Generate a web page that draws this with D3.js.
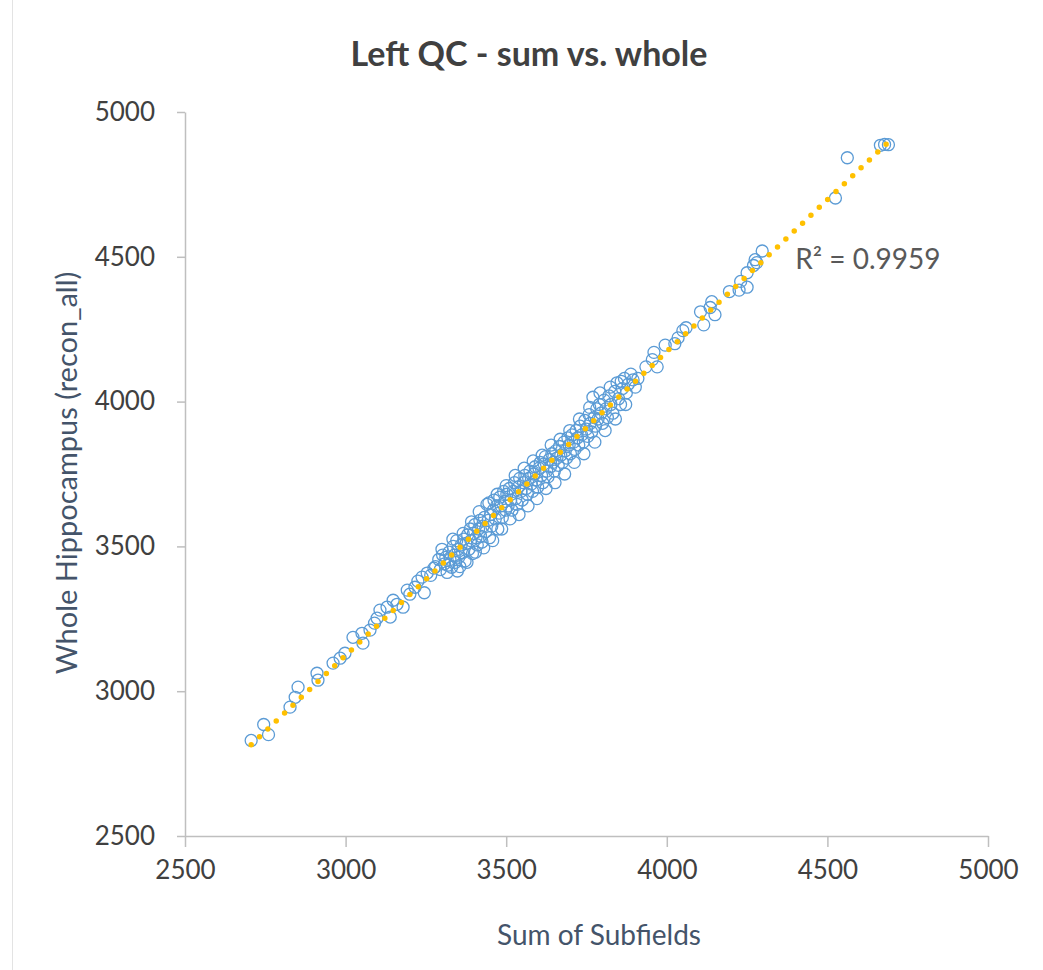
<!DOCTYPE html>
<html>
<head>
<meta charset="utf-8">
<script src="https://cdn.jsdelivr.net/npm/d3@7"></script>
<style>
  body { margin: 0; background: #fff; }
  svg { display: block; font-family: Lato, "Open Sans", sans-serif; }
</style>
</head>
<body>
<div id="chart"></div>
<script>
const title = "Left QC - sum vs. whole";
const xTitle = "Sum of Subfields";
const yTitle = "Whole Hippocampus (recon_all)";
const r2Label = "R² = 0.9959";
const xTicks = [2500, 3000, 3500, 4000, 4500, 5000];
const yTicks = [2500, 3000, 3500, 4000, 4500, 5000];

// sum of subfields (x) and whole hippocampus (y)
const lowerPoints = [
    [2706, 2830], [2745, 2885], [2760, 2850], [2827, 2945], [2843, 2979], [2852, 3014],
    [2911, 3062], [2914, 3038], [2961, 3097], [2983, 3114], [2998, 3131], [3023, 3186],
    [3054, 3166], [3051, 3200], [3076, 3211], [3098, 3252], [3107, 3280], [3139, 3256],
    [3129, 3290], [3148, 3314], [3179, 3290], [3192, 3349], [3216, 3359], [3238, 3394],
    [3254, 3408], [3225, 3380], [3245, 3340], [3265, 3400], [3090, 3235], [3160, 3300],
    [3200, 3335], [3275, 3425]
];
const middlePoints = [
    [3280, 3430], [3290, 3455], [3295, 3420], [3302, 3470], [3308, 3440], [3312, 3462],
    [3318, 3435], [3322, 3480], [3325, 3455], [3330, 3428], [3335, 3500], [3338, 3470],
    [3342, 3445], [3346, 3520], [3350, 3490], [3352, 3462], [3356, 3430], [3360, 3505],
    [3364, 3478], [3368, 3525], [3372, 3450], [3375, 3510], [3380, 3540], [3384, 3490],
    [3388, 3560], [3390, 3520], [3395, 3475], [3398, 3545], [3402, 3575], [3406, 3530],
    [3410, 3505], [3414, 3560], [3418, 3590], [3420, 3535], [3425, 3515], [3428, 3570],
    [3432, 3600], [3436, 3550], [3440, 3645], [3444, 3590], [3448, 3530], [3452, 3610],
    [3455, 3570], [3460, 3625], [3462, 3660], [3466, 3595], [3470, 3640], [3474, 3560],
    [3478, 3615], [3480, 3670], [3484, 3640], [3488, 3600], [3492, 3690], [3495, 3655],
    [3498, 3625], [3502, 3680], [3506, 3640], [3510, 3700], [3514, 3660], [3518, 3625],
    [3522, 3690], [3526, 3720], [3530, 3665], [3534, 3645], [3538, 3705], [3542, 3735],
    [3546, 3690], [3550, 3660], [3554, 3720], [3558, 3745], [3562, 3700], [3566, 3680],
    [3570, 3735], [3574, 3760], [3578, 3715], [3582, 3690], [3586, 3750], [3590, 3775],
    [3594, 3730], [3598, 3705], [3602, 3770], [3606, 3790], [3610, 3745], [3614, 3720],
    [3618, 3785], [3622, 3810], [3626, 3760], [3630, 3740], [3634, 3800], [3638, 3775],
    [3642, 3820], [3646, 3790], [3650, 3760], [3654, 3830], [3658, 3805], [3662, 3780],
    [3666, 3845], [3670, 3815], [3675, 3790], [3680, 3860], [3684, 3830], [3688, 3805],
    [3692, 3875], [3696, 3850], [3700, 3820], [3705, 3885], [3710, 3860], [3714, 3835],
    [3718, 3900], [3722, 3875], [3726, 3850], [3730, 3915], [3735, 3885], [3740, 3860],
    [3745, 3935], [3750, 3905], [3754, 3880], [3758, 3955], [3762, 3925], [3766, 3895],
    [3770, 4015], [3774, 3945], [3778, 3915], [3782, 3975], [3786, 3940], [3790, 3990],
    [3795, 3960], [3800, 3925], [3805, 4005], [3810, 3975], [3815, 3945], [3820, 4020],
    [3826, 3990], [3832, 3960], [3838, 4035], [3845, 4065], [3850, 4010], [3856, 3990],
    [3862, 4045], [3868, 4080], [3874, 4030], [3880, 4060], [3888, 4095], [3895, 4075],
    [3902, 4050], [3910, 4080],
    [3300, 3490], [3316, 3410], [3334, 3525], [3348, 3415], [3366, 3545], [3378, 3445],
    [3392, 3585], [3404, 3480], [3416, 3620], [3430, 3495], [3446, 3650], [3458, 3520],
    [3472, 3680], [3486, 3560], [3500, 3710], [3512, 3595], [3528, 3745], [3540, 3610],
    [3556, 3770], [3568, 3640], [3584, 3795], [3596, 3665], [3612, 3815], [3624, 3700],
    [3640, 3850], [3652, 3720], [3668, 3870], [3682, 3750], [3698, 3900], [3712, 3790],
    [3728, 3940], [3742, 3820], [3760, 3980], [3776, 3860], [3792, 4030], [3808, 3900],
    [3824, 4050], [3840, 3940], [3858, 4070], [3872, 3990]
];
const upperPoints = [
    [3935, 4120], [3955, 4145], [3960, 4170], [3970, 4120], [3995, 4195], [4025, 4200],
    [4035, 4220], [4050, 4245], [4060, 4255], [4105, 4310], [4115, 4265], [4135, 4325],
    [4140, 4345], [4150, 4300], [4195, 4380], [4225, 4385], [4230, 4415], [4250, 4395],
    [4250, 4445], [4270, 4470], [4275, 4490], [4280, 4480], [4297, 4520],
    [4525, 4703], [4562, 4842], [4665, 4885], [4678, 4888], [4690, 4887]
];
const points = lowerPoints.concat(middlePoints, upperPoints);

const margin = { top: 112, right: 55, bottom: 134, left: 185 };
const totalWidth = 1043, totalHeight = 970;
const width = totalWidth - margin.left - margin.right;
const height = totalHeight - margin.top - margin.bottom;

const svg = d3.select("#chart").append("svg")
    .attr("width", totalWidth)
    .attr("height", totalHeight);

// faint chart border on the left edge
svg.append("line")
    .attr("x1", 12.5).attr("x2", 12.5)
    .attr("y1", 0).attr("y2", totalHeight)
    .attr("stroke", "#e3e3e3");

const g = svg.append("g")
    .attr("transform", `translate(${margin.left},${margin.top})`);

const x = d3.scaleLinear().domain([2500, 5000]).range([0, width]);
const y = d3.scaleLinear().domain([2500, 5000]).range([height, 0]);

const xAxis = g.append("g")
    .attr("transform", `translate(0,${height})`)
    .call(d3.axisBottom(x).tickValues(xTicks).tickFormat(d3.format("d"))
        .tickSize(11).tickSizeOuter(0).tickPadding(14));

const yAxis = g.append("g")
    .call(d3.axisLeft(y).tickValues(yTicks).tickFormat(d3.format("d"))
        .tickSize(8).tickSizeOuter(0).tickPadding(22));

[xAxis, yAxis].forEach(a => {
    a.select(".domain").attr("stroke", "#bfbfbf").attr("stroke-width", 1.5);
    a.selectAll(".tick line").attr("stroke", "#bfbfbf").attr("stroke-width", 1.5);
    a.selectAll(".tick text")
        .attr("fill", "#404040")
        .style("font-size", "26px")
        .style("font-family", "Lato, sans-serif");
});

// markers
g.selectAll("circle.pt")
    .data(points)
    .join("circle")
    .attr("class", "pt")
    .attr("cx", d => x(d[0]))
    .attr("cy", d => y(d[1]))
    .attr("r", 6)
    .attr("fill", "none")
    .attr("stroke", "#5B9BD5")
    .attr("stroke-width", 1.3);

// linear trendline from the data
const mx = d3.mean(points, d => d[0]);
const my = d3.mean(points, d => d[1]);
const slope = d3.sum(points, d => (d[0] - mx) * (d[1] - my)) / d3.sum(points, d => (d[0] - mx) ** 2);
const intercept = my - slope * mx;
const [x0, x1] = d3.extent(points, d => d[0]);

g.append("line")
    .attr("x1", x(x0)).attr("y1", y(intercept + slope * x0))
    .attr("x2", x(x1)).attr("y2", y(intercept + slope * x1))
    .attr("stroke", "#FFC000")
    .attr("stroke-width", 5.5)
    .attr("stroke-linecap", "round")
    .attr("stroke-dasharray", "0 11.5");

// R² label
g.append("text")
    .attr("x", x(4400))
    .attr("y", y(4458))
    .attr("fill", "#595959")
    .style("font-size", "28px")
    .text(r2Label);

// titles
svg.append("text")
    .attr("x", 529)
    .attr("y", 66)
    .attr("text-anchor", "middle")
    .attr("fill", "#404040")
    .style("font-size", "34px")
    .style("font-weight", "bold")
    .text(title);

svg.append("text")
    .attr("x", 599)
    .attr("y", 945)
    .attr("text-anchor", "middle")
    .attr("fill", "#44546A")
    .style("font-size", "28px")
    .text(xTitle);

svg.append("text")
    .attr("transform", `translate(77,${473}) rotate(-90)`)
    .attr("text-anchor", "middle")
    .attr("fill", "#44546A")
    .style("font-size", "29px")
    .text(yTitle);
</script>
</body>
</html>
